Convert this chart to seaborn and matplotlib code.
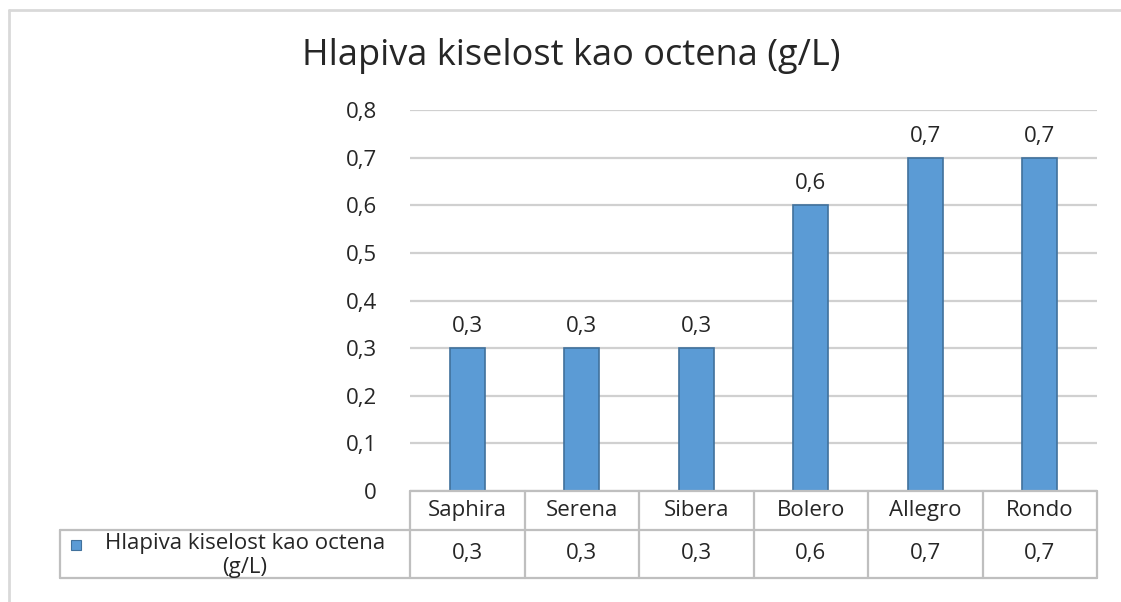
import matplotlib
matplotlib.use("Agg")
import matplotlib.pyplot as plt
import seaborn as sns
import pandas as pd
from matplotlib.lines import Line2D
from matplotlib.patches import Rectangle
from matplotlib.ticker import FuncFormatter

# Data
sorts = ["Saphira", "Serena", "Sibera", "Bolero", "Allegro", "Rondo"]
acidity = [0.3, 0.3, 0.3, 0.6, 0.7, 0.7]
title = "Hlapiva kiselost kao octena (g/L)"

df = pd.DataFrame({"Sorta": sorts, "Vrijednost": acidity})

sns.set_style("white")
plt.rcParams["font.family"] = ["Open Sans", "DejaVu Sans"]

def fmt(v):
    return "0" if v == 0 else f"{v:.1f}".replace(".", ",")

W, H = 1121, 602
fs = 16
txt_c = "#262626"
fig = plt.figure(figsize=(W / 100, H / 100), dpi=100)
# plot area in pixels: x 410..1097, y 110..491
ax = fig.add_axes([410 / W, 1 - 491 / H, 687 / W, 381 / H])

bar_color = "#5B9BD5"
edge_color = "#41719C"
sns.barplot(data=df, x="Sorta", y="Vrijednost", color=bar_color, width=0.31,
            saturation=1, edgecolor=edge_color, linewidth=1.2, ax=ax,
            zorder=3)

ax.set_ylim(0, 0.8)
ax.set_xlim(-0.5, len(sorts) - 0.5)
ax.set_yticks([i / 10 for i in range(9)])
ax.yaxis.set_major_formatter(FuncFormatter(lambda v, p: fmt(round(v, 1))))
ax.tick_params(axis="y", length=0, pad=24, labelsize=fs, labelcolor=txt_c)
ax.set_xticks([])
ax.set_xlabel("")
ax.set_ylabel("")
ax.grid(axis="y", color="#D0D0D0", linewidth=1.6, zorder=0)
for s in ax.spines.values():
    s.set_visible(False)

for c in ax.containers:
    ax.bar_label(c, labels=[fmt(v) for v in c.datavalues], padding=8,
                 fontsize=fs, color=txt_c)

fig.text(571 / W, 1 - 56 / H, title, ha="center", va="center",
         fontsize=26, color=txt_c)

# data table below the plot
line_c = "#BFBFBF"
lw = 1.6
tr = ax.transAxes
r1 = -39 / 381   # bottom of category row
r2 = -87 / 381   # bottom of value row
xl = (60 - 410) / 687  # left of legend cell
n = len(sorts)

def seg(x0, y0, x1, y1):
    ax.add_line(Line2D([x0, x1], [y0, y1], transform=tr, color=line_c,
                       linewidth=lw, clip_on=False, zorder=4))

seg(0, 0, 1, 0)
seg(0, r1, 1, r1)
seg(xl, r1, 0, r1)
seg(xl, r2, 1, r2)
seg(xl, r1, xl, r2)
for i in range(n + 1):
    seg(i / n, 0, i / n, r2)

for i, (name, v) in enumerate(zip(sorts, acidity)):
    xc = (i + 0.5) / n
    ax.text(xc, r1 / 2, name, transform=tr, ha="center", va="center",
            fontsize=fs, color=txt_c)
    ax.text(xc, (r1 + r2) / 2, fmt(v), transform=tr, ha="center",
            va="center", fontsize=fs, color=txt_c)

# legend cell
ax.add_patch(Rectangle((71 / W, 1 - 550 / H), 10 / W, 10 / H,
                       transform=fig.transFigure, facecolor=bar_color,
                       edgecolor=edge_color, linewidth=0.8, clip_on=False))
fig.text(245 / W, 1 - 543 / H, "Hlapiva kiselost kao octena", ha="center",
         va="center", fontsize=fs, color=txt_c)
fig.text(245 / W, 1 - 568 / H, "(g/L)", ha="center", va="center",
         fontsize=fs, color=txt_c)

# outer chart border (left and top visible)
fig.add_artist(Line2D([9 / W, 9 / W], [0, 1 - 10 / H], color="#D9D9D9",
                      linewidth=2))
fig.add_artist(Line2D([9 / W, 1], [1 - 10 / H, 1 - 10 / H], color="#D9D9D9",
                      linewidth=2))

fig.savefig("out.png", dpi=100)
